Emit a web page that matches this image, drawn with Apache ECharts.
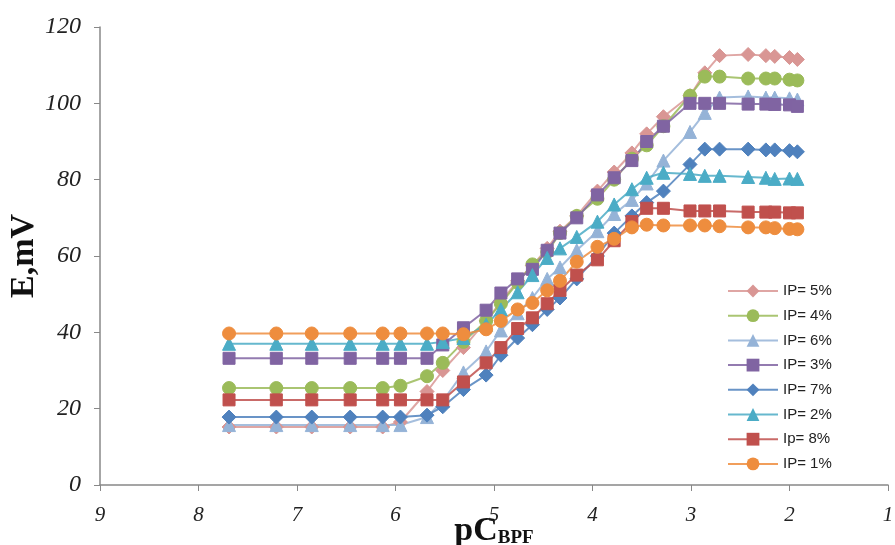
<!DOCTYPE html>
<html>
<head>
<meta charset="utf-8">
<script src="https://cdn.jsdelivr.net/npm/echarts@6/dist/echarts.min.js"></script>
<style>html,body{margin:0;padding:0;background:#fff;}#c{width:895px;height:545px;}</style>
</head>
<body>
<div id="c"></div>
<script>
const pC = [7.69, 7.21, 6.85, 6.46, 6.13, 5.95, 5.68, 5.52, 5.31, 5.08, 4.93, 4.76, 4.61, 4.46, 4.33, 4.16, 3.95, 3.78, 3.60, 3.45, 3.28, 3.01, 2.86, 2.71, 2.42, 2.24, 2.15, 2.00, 1.92];
const ip5 = [15.2,15.2,15.2,15.2,15.2,16.5,24.5,30,36,43,48,53.5,57.5,62,66.5,70.5,77,82,87,92,96.5,102,108,112.5,112.8,112.5,112.3,112,111.5];
const ip4 = [25.4,25.4,25.4,25.4,25.4,26,28.5,32,37.5,43,47.5,53,57.8,61,66,70.5,75,80,85.5,89,94,102,107,107,106.5,106.5,106.5,106.2,106];
const ip6 = [15.7,15.7,15.7,15.7,15.7,15.7,17.8,22,29.5,35,40.5,45,49,54,57,61.5,66.5,71,74.7,79,85,92.5,97.5,101.5,101.8,101.5,101.5,101.3,101];
const ip3 = [33.2,33.2,33.2,33.2,33.2,33.2,33.2,36.7,41.2,45.8,50.3,54,56.5,61.5,66,70,76,80.5,85,90,94,100,100,100,99.8,99.8,99.7,99.6,99.2];
const ip7 = [17.8,17.8,17.8,17.8,17.8,17.8,18.3,20.5,25,28.8,34,38.5,42,46,49,54,60,66,70.5,74,77,84,88,88,88,87.8,87.8,87.6,87.3];
const ip2 = [37,37,37,37,37,37,37,37.5,38.5,42,46,50.5,55,59.5,62,65,69,73.5,77.5,80.5,81.8,81.5,81,81,80.7,80.5,80.2,80.3,80.2];
const ip8 = [22.3,22.3,22.3,22.3,22.3,22.3,22.3,22.3,27,32,36,41,43.8,47.5,51,55,59,64,69,72.5,72.5,71.8,71.8,71.8,71.5,71.5,71.5,71.3,71.3];
const ip1 = [39.7,39.7,39.7,39.7,39.7,39.7,39.7,39.7,39.5,40.8,43,46,47.7,51,53.5,58.5,62.4,64.5,67.5,68.2,68,68,68,67.8,67.5,67.5,67.3,67.1,67];
const names = ['IP= 5%','IP= 4%','IP= 6%','IP= 3%','IP= 7%','IP= 2%','Ip= 8%','IP= 1%'];
const xTicks = [1,2,3,4,5,6,7,8,9];

const defs = [
  {name: names[0], vals: ip5, color: '#D99694', symbol: 'diamond', size: 14},
  {name: names[1], vals: ip4, color: '#9BBB59', symbol: 'circle', size: 13},
  {name: names[2], vals: ip6, color: '#95B3D7', symbol: 'triangle', size: 13},
  {name: names[3], vals: ip3, color: '#8064A2', symbol: 'rect', size: 12},
  {name: names[4], vals: ip7, color: '#4F81BD', symbol: 'diamond', size: 14},
  {name: names[5], vals: ip2, color: '#4BACC6', symbol: 'triangle', size: 13},
  {name: names[6], vals: ip8, color: '#C0504D', symbol: 'rect', size: 12},
  {name: names[7], vals: ip1, color: '#EE8D3E', symbol: 'circle', size: 13}
];

const tickFont = "'Liberation Serif', serif";
const chart = echarts.init(document.getElementById('c'), null, {renderer: 'canvas'});
chart.setOption({
  animation: false,
  backgroundColor: '#fff',
  grid: {left: 100, right: 7, top: 27, bottom: 60, containLabel: false, outerBoundsMode: 'none'},
  legend: {
    orient: 'vertical', left: 722, top: 278,
    itemWidth: 50, itemHeight: 16, itemGap: 8.7,
    textStyle: {fontFamily: 'Liberation Sans', fontSize: 15, color: '#222', lineHeight: 16},
    data: names
  },
  xAxis: {
    type: 'value', inverse: true, min: 1, max: 9, interval: 1,
    axisLine: {show: true, onZero: false, lineStyle: {color: '#888', width: 1.5}},
    axisTick: {show: true, length: 6, lineStyle: {color: '#888'}},
    splitLine: {show: false},
    axisLabel: {fontFamily: tickFont, fontStyle: 'italic', fontSize: 21, color: '#222', margin: 20,
      formatter: v => xTicks.includes(v) ? String(v) : ''},
    name: '{a|pC}{b|BPF}', nameLocation: 'middle', nameGap: 29, nameMoveOverlap: false,
    nameTextStyle: {
      rich: {
        a: {fontFamily: 'Liberation Serif', fontWeight: 'bold', fontSize: 34, color: '#111', lineHeight: 34, verticalAlign: 'bottom'},
        b: {fontFamily: 'Liberation Serif', fontWeight: 'bold', fontSize: 19, color: '#111', lineHeight: 34, verticalAlign: 'bottom', padding: [12, 0, 0, 0]}
      }
    }
  },
  yAxis: {
    type: 'value', min: 0, max: 120, interval: 20,
    axisLine: {show: true, lineStyle: {color: '#888', width: 1.5}},
    axisTick: {show: true, length: 6, lineStyle: {color: '#888'}},
    splitLine: {show: false},
    axisLabel: {fontFamily: tickFont, fontStyle: 'italic', fontSize: 24, color: '#222', margin: 19},
    name: 'E,mV', nameLocation: 'middle', nameGap: 59, nameRotate: 90, nameMoveOverlap: false,
    nameTextStyle: {fontFamily: 'Liberation Serif', fontWeight: 'bold', fontSize: 34, color: '#111'}
  },
  series: defs.map(d => ({
    name: d.name, type: 'line',
    data: pC.map((x, i) => [x, d.vals[i]]),
    symbol: d.symbol, symbolSize: d.size,
    itemStyle: {color: d.color, borderColor: d.color},
    lineStyle: {color: d.color, width: 2, opacity: 0.85},
    emphasis: {disabled: true}
  }))
});
</script>
</body>
</html>
